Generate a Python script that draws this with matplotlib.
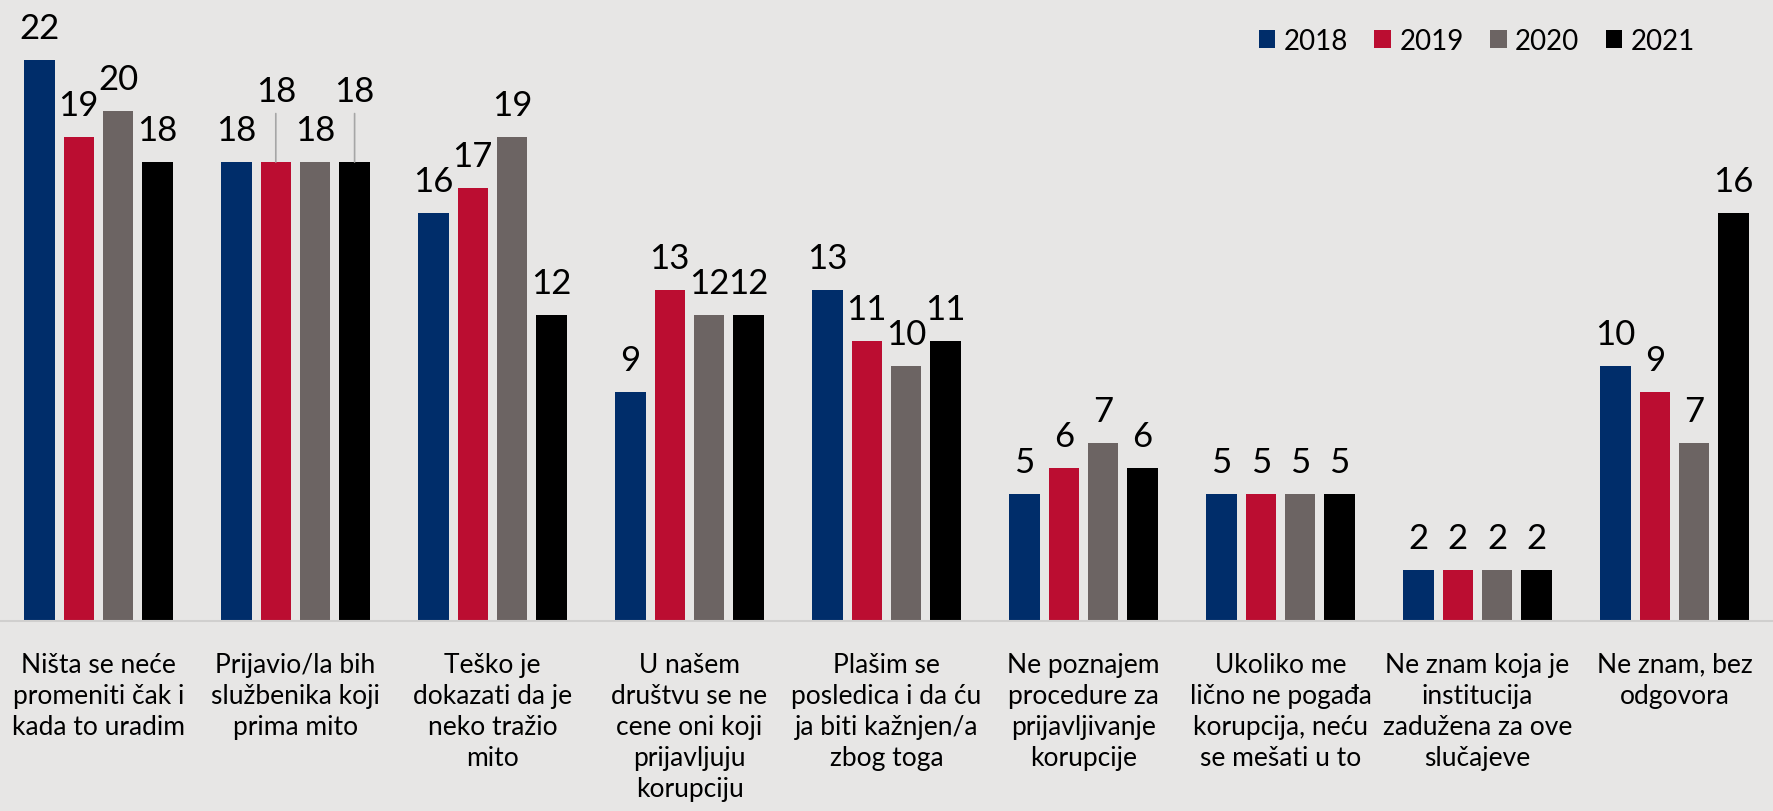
import numpy as np
import matplotlib.pyplot as plt

plt.rcParams['font.family'] = ['Lato', 'DejaVu Sans']

# kategorije (razlozi) i procenti po godinama
categories = [
    "Ništa se neće\npromeniti čak i\nkada to uradim",
    "Prijavio/la bih\nslužbenika koji\nprima mito",
    "Teško je\ndokazati da je\nneko tražio\nmito",
    "U našem\ndruštvu se ne\ncene oni koji\nprijavljuju\nkorupciju",
    "Plašim se\nposledica i da ću\nja biti kažnjen/a\nzbog toga",
    "Ne poznajem\nprocedure za\nprijavljivanje\nkorupcije",
    "Ukoliko me\nlično ne pogađa\nkorupcija, neću\nse mešati u to",
    "Ne znam koja je\ninstitucija\nzadužena za ove\nslučajeve",
    "Ne znam, bez\nodgovora",
]
years = ["2018", "2019", "2020", "2021"]
v2018 = [22, 18, 16, 9, 13, 5, 5, 2, 10]
v2019 = [19, 18, 17, 13, 11, 6, 5, 2, 9]
v2020 = [20, 18, 19, 12, 10, 7, 5, 2, 7]
v2021 = [18, 18, 12, 12, 11, 6, 5, 2, 16]
series = [v2018, v2019, v2020, v2021]
colors = ["#002d6a", "#bb0d31", "#6c6463", "#000000"]
bg = "#e7e6e5"

fig = plt.figure(figsize=(17.73, 8.12), dpi=100, facecolor=bg)
ax = fig.add_axes([0, (812 - 622) / 812, 1, 622 / 812])
ax.set_facecolor(bg)

x = np.arange(len(categories))
step = 0.2
width = 0.155
# podignute etikete (grupa, serija) sa linijom do stubića
raised = {(1, 1): 28, (1, 3): 28}

for i, (vals, col, yr) in enumerate(zip(series, colors, years)):
    pos = x + (i - 1.5) * step
    bars = ax.bar(pos, vals, width, color=col, label=yr, zorder=2)
    for j, (px, v) in enumerate(zip(pos, vals)):
        extra = raised.get((j, i), 0)
        ax.annotate(str(v), (px, v), xytext=(0, 23 + extra), textcoords='offset points',
                    ha='center', va='center', fontsize=25, color='black')
        if extra:
            ax.annotate('', (px, v), xytext=(px, v + 1.9),
                        arrowprops=dict(arrowstyle='-', color='#a6a6a6', lw=1.2, shrinkA=0, shrinkB=0))

ax.set_xlim(-0.5, len(categories) - 0.5)
ax.set_ylim(0, 622 / 25.5)
ax.set_yticks([])
ax.set_xticks(x)
ax.set_xticklabels(categories, fontsize=19, linespacing=1.3)
ax.tick_params(axis='x', length=0, pad=22)
for s in ['top', 'right', 'left']:
    ax.spines[s].set_visible(False)
ax.spines['bottom'].set_color('#d0cfce')
ax.spines['bottom'].set_linewidth(1.5)

leg = ax.legend(loc='upper right', bbox_to_anchor=(0.967, 0.985), ncol=4, frameon=False,
                fontsize=20, handlelength=0.6, handleheight=0.6, handletextpad=0.3,
                columnspacing=0.95, borderaxespad=0.3)

fig.savefig("out.png", dpi=100, facecolor=bg)
